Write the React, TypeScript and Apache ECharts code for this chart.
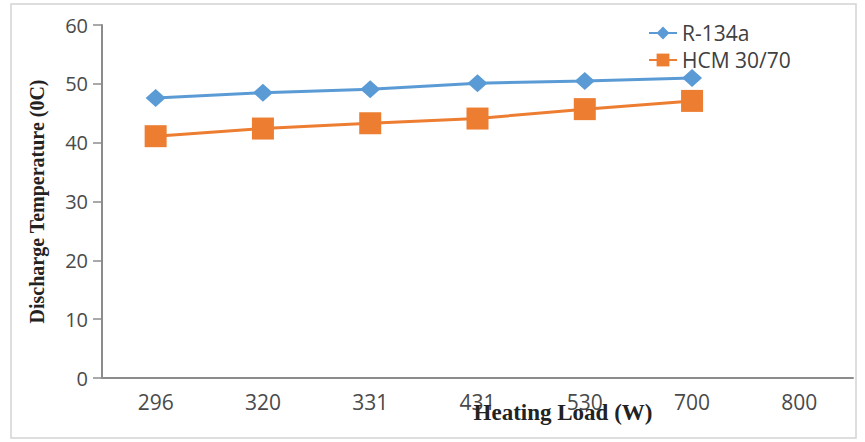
import React, { useEffect, useRef } from "react";
import * as echarts from "echarts";

const categories = ["296", "320", "331", "431", "530", "700", "800"];
const r134a = [47.6, 48.5, 49.1, 50.1, 50.5, 51];
const hcm = [41.1, 42.4, 43.3, 44.1, 45.7, 47.1];
const seriesNames = ["R-134a", "HCM 30/70"];
const yTitle = "Discharge Temperature (0C)";
const xTitle = "Heating Load (W)";

export default function App() {
  const ref = useRef<HTMLDivElement>(null);
  useEffect(() => {
    const chart = echarts.init(ref.current!, null, { renderer: "svg" });
    const labelFont = "'Open Sans', 'Liberation Sans', sans-serif";
    const serif = "'Liberation Serif', 'Times New Roman', serif";
    chart.setOption({
      animation: false,
      backgroundColor: "#ffffff",
      graphic: [
        {
          type: "rect",
          shape: { x: 11, y: 4, width: 845, height: 434 },
          style: { fill: "none", stroke: "#d4d4d4", lineWidth: 1.5 },
          silent: true,
          z: -1,
        },
        {
          type: "text",
          x: 563,
          y: 412,
          style: {
            text: xTitle,
            font: "bold 23px " + serif,
            fill: "#222",
            align: "center",
            verticalAlign: "middle",
          },
          z: 10,
        },
      ],
      legend: {
        orient: "vertical",
        left: 643,
        top: 17,
        padding: 5,
        itemWidth: 28,
        itemHeight: 16,
        itemGap: 5,
        textStyle: { fontFamily: labelFont, fontSize: 21, color: "#404040", lineHeight: 22 },
        data: seriesNames,
      },
      grid: { left: 102, right: 12, top: 25, bottom: 64, containLabel: false },
      xAxis: {
        type: "category",
        data: categories,
        boundaryGap: true,
        axisLine: { lineStyle: { color: "#8c8c8c", width: 2 } },
        axisTick: { show: false },
        axisLabel: { fontFamily: labelFont, fontSize: 21, color: "#4a4a4a", margin: 13 },
        splitLine: { show: false },
      },
      yAxis: {
        type: "value",
        min: 0,
        max: 60,
        interval: 10,
        name: yTitle,
        nameLocation: "middle",
        nameGap: 55,
        nameTextStyle: {
          fontFamily: serif,
          fontWeight: "bold",
          fontSize: 20,
          color: "#222",
        },
        axisLine: { show: true, lineStyle: { color: "#8c8c8c", width: 2 } },
        axisTick: { show: true, length: 9, lineStyle: { color: "#8c8c8c", width: 1.5 } },
        axisLabel: { fontFamily: labelFont, fontSize: 20, color: "#4a4a4a", margin: 14 },
        splitLine: { show: false },
      },
      series: [
        {
          name: seriesNames[0],
          type: "line",
          data: r134a,
          symbol: "diamond",
          symbolSize: [20, 18],
          lineStyle: { color: "#5B9BD5", width: 3 },
          itemStyle: { color: "#5B9BD5" },
        },
        {
          name: seriesNames[1],
          type: "line",
          data: hcm,
          symbol: "rect",
          symbolSize: 22,
          lineStyle: { color: "#ED7D31", width: 3 },
          itemStyle: { color: "#ED7D31" },
        },
      ],
    });
    return () => chart.dispose();
  }, []);
  return (
    <div
      ref={ref}
      style={{ position: "absolute", left: 0, top: 0, width: 865, height: 442 }}
    />
  );
}
